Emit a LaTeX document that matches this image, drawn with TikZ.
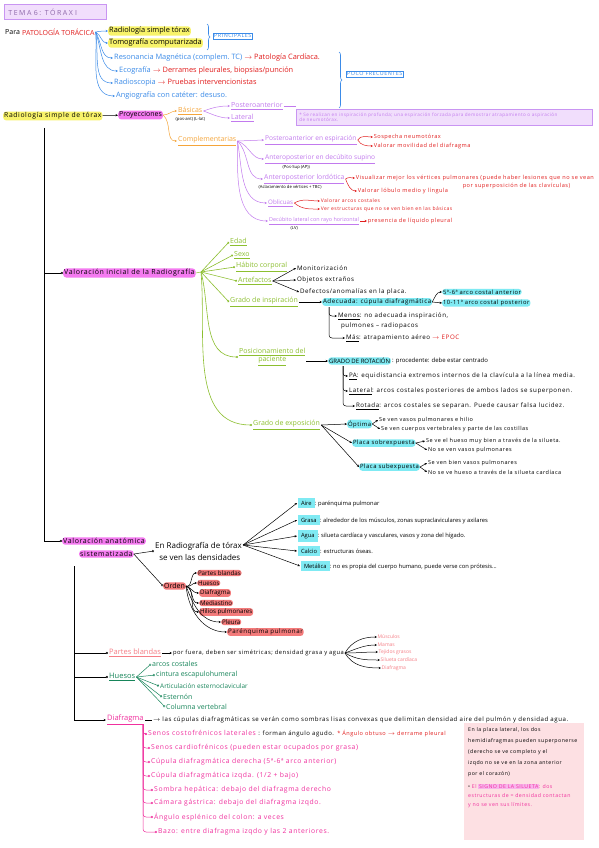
\documentclass[tikz,border=0pt]{standalone}
\usepackage{fontspec}
\setmainfont{Open Sans}
\newfontfamily\wfont[LetterSpace=9]{Open Sans}
\newfontfamily\hfont[LetterSpace=22]{Open Sans}
\usetikzlibrary{arrows.meta,decorations.pathreplacing}
\definecolor{cblue}{HTML}{3B8BE8}
\definecolor{cred}{HTML}{E11D1D}
\definecolor{cyel}{HTML}{F8F36A}
\definecolor{cmag}{HTML}{F47AF0}
\definecolor{ccyan}{HTML}{7FEAF3}
\definecolor{csal}{HTML}{F37B7B}
\definecolor{clav}{HTML}{F1DEFC}
\definecolor{clavd}{HTML}{C995F2}
\definecolor{cpur}{HTML}{C27AEE}
\definecolor{corg}{HTML}{F5A53A}
\definecolor{colive}{HTML}{8CBF2F}
\definecolor{cgreen}{HTML}{17855A}
\definecolor{cpink}{HTML}{F0309E}
\definecolor{clred}{HTML}{F57E86}
\definecolor{cpbox}{HTML}{FDE0E3}
\definecolor{chlp}{HTML}{F9B3EC}
\newcommand\ra{$\rightarrow$}
\tikzset{
 tx/.style={anchor=west, inner sep=1pt, font=\fontsize{7}{8}\selectfont, text=black},
 tt/.style={anchor=west, inner sep=1pt, font=\fontsize{7.4}{8.4}\selectfont, text=black},
 td/.style={anchor=west, inner sep=1pt, font=\wfont\fontsize{6.8}{7.8}\selectfont, text=cpink},
 tm/.style={anchor=west, inner sep=0.8pt, font=\fontsize{5.8}{6.6}\selectfont, text=black},
 tw/.style={anchor=west, inner sep=0.8pt, font=\wfont\fontsize{6.2}{7}\selectfont, text=black},
 tr/.style={anchor=west, inner sep=0.6pt, font=\wfont\fontsize{5.6}{6.2}\selectfont, text=cred},
 sm/.style={anchor=west, inner sep=0.5pt, font=\fontsize{4.2}{4.8}\selectfont, text=black},
 hy/.style={fill=cyel, rounded corners=3pt},
 hm/.style={fill=cmag, rounded corners=3pt},
 hc/.style={fill=ccyan, rounded corners=3pt},
 hr/.style={fill=csal, rounded corners=3pt},
 ar/.style={-{Stealth[length=2.4pt,width=2.2pt]}, line width=0.5pt},
 ci/.style={-{Circle[open,length=2.2pt,width=2.2pt]}, line width=0.5pt},
 dt/.style={-{Circle[length=2pt,width=2pt]}, line width=0.6pt},
 brc/.style={decorate, decoration={brace, amplitude=3pt}, line width=0.6pt},
}
\begin{document}
\begin{tikzpicture}[x=1pt,y=-1pt]
\useasboundingbox[fill=white] (0,0) rectangle (599,848);

% header
\node[draw=clavd, fill=clav, line width=0.8pt, anchor=north west, minimum width=102pt, minimum height=15pt, text width=94pt, align=left, font=\hfont\fontsize{7}{8}\selectfont, text=clavd!70!black] (hdr) at (4,4) {TEMA 6: TÓRAX I};

% top section
\node[tx] (para) at (4,32) {Para};
\node[tx, text=cred] (pat) at (21,32) {PATOLOGÍA TORÁCICA};
\node[tt, hy] (rst) at (108,31) {Radiología simple tórax};
\node[tt, hy] (tc) at (108,43) {Tomografía computarizada};
\node[tt, text=cblue] (rm) at (113,58) {Resonancia Magnética (complem.\ TC) \textcolor{cred}{\ra\ Patología Cardíaca.}};
\node[tt, text=cblue] (eco) at (118,71) {Ecografía \textcolor{cred}{\ra\ Derrames pleurales, biopsias/punción}};
\node[tt, text=cblue] (rad) at (113,83) {Radioscopia \textcolor{cred}{\ra\ Pruebas intervencionistas}};
\node[tt, text=cblue] (ang) at (115,96) {Angiografía con catéter: desuso.};
\foreach \n/\o in {rst/10,tc/-30,rm/-60,eco/-70,rad/-80,ang/-85}
  \draw[ar, cblue] (pat.east) to[out=\o, in=180] (\n.west);
\draw[brc, cblue] (207,24) -- (207,50);
\node[draw=cblue, text=cblue, inner sep=1pt, font=\wfont\fontsize{5.4}{6}\selectfont, anchor=west] (princ) at (213,36) {PRINCIPALES};
\draw[brc, cblue] (339,52) -- (339,108);
\node[draw=cblue, text=cblue, inner sep=1pt, font=\wfont\fontsize{5.4}{6}\selectfont, anchor=west] (poco) at (346,74) {POCO FRECUENTES};

% lavender note
\node[draw=clavd, fill=clav, line width=0.6pt, anchor=north west, minimum width=296pt, minimum height=16pt, text width=290pt, align=left, inner sep=2pt, font=\wfont\fontsize{4.6}{5.4}\selectfont, text=cpur] (lav) at (296,109) {* Se realizan en inspiración profunda; una espiración forzada para demostrar atrapamiento o aspiración\\ de neumotórax.};

% Radiologia simple
\node[tx, hy, font=\wfont\fontsize{6.8}{8}\selectfont] (rst2) at (3,116) {Radiología simple de tórax};
\node[tx, hm] (proy) at (118,115) {Proyecciones};
\draw[ar] (rst2) -- (proy);
\node[tx, text=corg] (bas) at (177,111) {\underline{Básicas}};
\node[sm] (bass) at (175,119) {(pos-ant) (L-lat)};
\node[tx, text=corg] (comp) at (177,141) {\underline{Complementarias}};
\draw[ar, corg] (proy.east) to[out=0, in=180] (bas.west);
\draw[ar, corg] (proy.east) to[out=-40, in=180] (comp.west);
\node[tx, text=cpur] (post) at (230,106) {\underline{Posteroanterior}};
\node[tx, text=cpur] (lat) at (230,118) {\underline{Lateral}};
\draw[ar, cpur] (bas.east) to[out=20, in=180] (post.west);
\draw[ar, cpur] (bas.east) to[out=-20, in=180] (lat.west);
\draw[cpur, line width=0.5pt] (post.east) -- (post.east -| lav.west);

\node[tx, text=cpur, font=\fontsize{6.6}{7.6}\selectfont] (c1) at (264,140) {\underline{Posteroanterior en espiración}};
\node[tx, text=cpur, font=\fontsize{6.6}{7.6}\selectfont] (c2) at (264,159) {\underline{Anteroposterior en decúbito supino}};
\node[sm] (c2s) at (282,167) {(Pos-Sup (AP))};
\node[tx, text=cpur, font=\fontsize{6.8}{7.6}\selectfont] (c3) at (263,179) {\underline{Anteroposterior lordótica}};
\node[sm] (c3s) at (258,187) {(Aclaramiento de vértices + TBC)};
\node[tx, text=cpur, font=\fontsize{6.2}{7}\selectfont] (c4) at (267,203) {\underline{Oblicuas}};
\node[tx, text=cpur, font=\fontsize{5.4}{6.2}\selectfont] (c5) at (268,221) {\underline{Decúbito lateral con rayo horizontal}};
\node[sm] (c5s) at (290,228) {(LV)};
\draw[ar, cpur] (comp.east) -- (c1.west);
\draw[ar, cpur] (comp.east) to[out=-20, in=180] (c2.west);
\draw[ar, cpur] (comp.east) to[out=-45, in=180] (c3.west);
\draw[ar, cpur] (comp.east) to[out=-80, in=180] (c4.west);
\draw[ar, cpur] (comp.east) to[out=-90, in=180] (c5.west);

\node[tr] (r11) at (373,137) {Sospecha neumotórax};
\node[tr] (r12) at (373,146) {Valorar movilidad del diafragma};
\draw[ar, cred] (c1.east) to[out=60, in=180] (r11.west);
\draw[ar, cred] (c1.east) to[out=-60, in=180] (r12.west);
\node[tr] (r31) at (355,178) {Visualizar mejor los vértices pulmonares (puede haber lesiones que no se vean};
\node[tr] (r32) at (462,186) {por superposición de las clavículas)};
\node[tr] (r33) at (357,191) {Valorar lóbulo medio y língula};
\draw[ar, cred] (c3.east) to[out=40, in=180] (r31.west);
\draw[ar, cred] (c3.east) to[out=-70, in=180] (r33.west);
\node[tr, font=\wfont\fontsize{5}{5.6}\selectfont] (r41) at (320,201) {Valorar arcos costales};
\node[tr, font=\wfont\fontsize{5}{5.6}\selectfont] (r42) at (320,209) {Ver estructuras que no se ven bien en las básicas};
\draw[ar, cred] (c4.east) to[out=30, in=180] (r41.west);
\draw[ar, cred] (c4.east) to[out=-40, in=180] (r42.west);
\node[tr] (r51) at (367,221) {presencia de líquido pleural};
\draw[ar, cred] (c5.east) -- (r51.west);

% main vertical
\coordinate (v1top) at (44,128);
\node[tx, hm, font=\wfont\fontsize{7}{8}\selectfont] (vi) at (63,273) {Valoración inicial de la Radiografía};
\node[tx, hm, font=\wfont\fontsize{7}{8}\selectfont] (va1) at (62,541) {Valoración anatómica};
\node[tx, hm, font=\wfont\fontsize{7}{8}\selectfont] (va2) at (79,554) {sistematizada};
\draw[ci] (v1top) |- (va1.west);
\draw[ci] (v1top |- vi.west) -- (vi.west);

% green fan
\coordinate (g0) at (201,272);
\draw[line width=0.5pt, colive] (vi.east) -- (g0);
\node[tx, text=colive] (edad) at (229,242) {\underline{Edad}};
\node[tx, text=colive] (sexo) at (233,255) {\underline{Sexo}};
\node[tx, text=colive] (hab) at (235,267) {\underline{Hábito corporal}};
\node[tx, text=colive] (art) at (237,281) {\underline{Artefactos}};
\node[tx, text=colive] (gi) at (229,302) {\underline{Grado de inspiración}};
\node[tx, text=colive, align=center, anchor=west] (pos) at (238,357) {\underline{Posicionamiento del}\\\underline{paciente}};
\node[tx, text=colive] (ge) at (252,425) {\underline{Grado de exposición}};
\foreach \n in {edad,sexo,hab,art,gi}
  \draw[dt, colive] (g0) -- (\n.west);
\draw[dt, colive] (g0) to[out=-75, in=180] (pos.west);
\draw[dt, colive] (g0) to[out=-85, in=180] (ge.west);

\node[tw] (m1) at (296,268) {Monitorización};
\node[tw] (m2) at (296,280) {Objetos extraños};
\node[tw] (m3) at (299,292) {Defectos/anomalías en la placa.};
\foreach \n in {m1,m2,m3} \draw[ar] (art.east) -- (\n.west);

\node[tw, hc] (ade) at (322,302) {Adecuada: cúpula diafragmática};
\draw[ar] (gi.east) -- (ade.west);
\node[tw, hc, font=\wfont\fontsize{5.8}{6.6}\selectfont] (a1) at (442,292) {5ª-6ª arco costal anterior};
\node[tw, hc, font=\wfont\fontsize{5.8}{6.6}\selectfont] (a2) at (442,303) {10-11ª arco costal posterior};
\draw[ar] (ade.east) to[out=60, in=180] (a1.west);
\draw[ar] (ade.east) -- (a2.west);
\coordinate (b1) at (329,307);
\node[tw] (me) at (337,316) {\underline{Menos}: no adecuada inspiración,};
\node[tw] (me2) at (340,326) {pulmones – radiopacos};
\node[tw] (ma) at (345,338) {\underline{Más}: atrapamiento aéreo \textcolor{cred}{\ra\ EPOC}};
\draw[ar, rounded corners=3pt] (b1) |- (me.west);
\draw[ar, rounded corners=3pt] (b1) |- (ma.west);

\node[tm, hc, font=\fontsize{6}{7}\selectfont] (rot) at (328,361) {GRADO DE ROTACIÓN};
\node[tm, anchor=west, font=\fontsize{6}{7}\selectfont] (rot2) at (rot.east) {: procedente: debe estar centrado};
\draw[ar] (pos.east |- rot.west) -- (rot.west);
\coordinate (b2) at (343,366);
\node[tw] (pa) at (348,376) {\underline{PA}: equidistancia extremos internos de la clavícula a la línea media.};
\node[tw] (latr) at (348,391) {\underline{Lateral}: arcos costales posteriores de ambos lados se superponen.};
\node[tw] (rota) at (355,406) {\underline{Rotada}: arcos costales se separan. Puede causar falsa lucidez.};
\foreach \n in {pa,latr,rota} \draw[ar, rounded corners=3pt] (b2) |- (\n.west);

\node[tw, hc, font=\wfont\fontsize{5.9}{6.6}\selectfont] (op) at (347,424) {Óptima};
\node[tw, hc, font=\wfont\fontsize{5.9}{6.6}\selectfont] (so) at (352,443) {Placa sobrexpuesta};
\node[tw, hc, font=\wfont\fontsize{5.9}{6.6}\selectfont] (su) at (359,467) {Placa subexpuesta};
\foreach \n in {op,so,su} \draw[ar] (ge.east) -- (\n.west);
\node[tw, font=\wfont\fontsize{5.5}{6.2}\selectfont] (o1) at (378,420) {Se ven vasos pulmonares e hilio};
\node[tw, font=\wfont\fontsize{5.5}{6.2}\selectfont] (o2) at (380,429) {Se ven cuerpos vertebrales y parte de las costillas};
\node[tw, font=\wfont\fontsize{5.5}{6.2}\selectfont] (s1) at (425,441) {Se ve el hueso muy bien a través de la silueta.};
\node[tw, font=\wfont\fontsize{5.5}{6.2}\selectfont] (s2) at (427,450) {No se ven vasos pulmonares};
\node[tw, font=\wfont\fontsize{5.5}{6.2}\selectfont] (u1) at (427,463) {Se ven bien vasos pulmonares};
\node[tw, font=\wfont\fontsize{5.5}{6.2}\selectfont] (u2) at (427,472) {No se ve hueso a través de la silueta cardíaca};
\draw[ar] (op.east) -- (o1.west); \draw[ar] (op.east) -- (o2.west);
\draw[ar] (so.east) -- (s1.west); \draw[ar] (so.east) -- (s2.west);
\draw[ar] (su.east) -- (u1.west); \draw[ar] (su.east) -- (u2.west);

% valoracion anatomica
\node[tx, font=\fontsize{8}{12}\selectfont, align=left] (den) at (154,551) {En Radiografía de tórax\\\ \ se ven las densidades};
\node[tx, hr] (ord) at (163,586) {Orden};
\draw[ci] (va2.east) -- (den.west);
\draw[ci] (va2.east) -- (ord.west);
\node[tm] (aire) at (297,503) {\colorbox{ccyan}{Aire}: parénquima pulmonar};
\node[tm] (grasa) at (297,520) {\colorbox{ccyan}{Grasa}: alrededor de los músculos, zonas supraclaviculares y axilares};
\node[tm] (agua) at (297,536) {\colorbox{ccyan}{Agua}: silueta cardíaca y vasculares, vasos y zona del hígado.};
\node[tm] (calc) at (297,551) {\colorbox{ccyan}{Calcio}: estructuras óseas.};
\node[tm] (met) at (300,566) {\colorbox{ccyan}{Metálica}: no es propia del cuerpo humano, puede verse con prótesis...};
\foreach \n in {aire,grasa,agua,calc,met} \draw[ar] (den.east |- 0,545) -- (\n.west);

\node[tm, hr, font=\fontsize{6.2}{7}\selectfont] (p1) at (197,573) {Partes blandas};
\node[tm, hr, font=\fontsize{6.2}{7}\selectfont] (p2) at (197,583) {Huesos};
\node[tm, hr, font=\fontsize{6.2}{7}\selectfont] (p3) at (199,593) {Diafragma};
\node[tm, hr, font=\fontsize{6.2}{7}\selectfont] (p4) at (199,603) {Mediastino};
\node[tm, hr, font=\fontsize{6.2}{7}\selectfont] (p5) at (199,612) {Hilios pulmonares};
\node[tm, hr, font=\fontsize{6.2}{7}\selectfont] (p6) at (221,622) {Pleura};
\node[tm, hr, font=\wfont\fontsize{6.2}{7}\selectfont] (p7) at (227,632) {Parénquima pulmonar};
\foreach \n in {p1,p2,p3,p4,p5} \draw[ar] (ord.east) to[out=-20, in=180] (\n.west);
\draw[ar] (ord.east) to[out=-70, in=180] (p6.west);
\draw[ar] (ord.east) to[out=-85, in=180] (p7.west);

% second vertical
\coordinate (v2top) at (74,566);
\node[tx, text=clred, font=\fontsize{7.5}{9}\selectfont] (pb) at (108,653) {\underline{Partes blandas}};
\node[tx, text=cgreen, font=\fontsize{7.5}{9}\selectfont] (hu) at (108,677) {\underline{Huesos}};
\node[tx, text=cpink, font=\fontsize{7.5}{9}\selectfont] (dia) at (106,720) {\underline{Diafragma}};
\draw[ar] (v2top) |- (dia.west);
\draw[ci] (v2top |- pb.west) -- (pb.west);
\draw[ci] (v2top |- hu.west) -- (hu.west);

\node[tw, font=\wfont\fontsize{5.8}{6.6}\selectfont] (pbt) at (172,653) {por fuera, deben ser simétricas; densidad grasa y agua};
\draw[ar] (pb.east) -- (pbt.west);
\node[sm, text=clred, font=\fontsize{5}{5.6}\selectfont] (l1) at (377,637) {Músculos};
\node[sm, text=clred, font=\fontsize{5}{5.6}\selectfont] (l2) at (377,645) {Mamas};
\node[sm, text=clred, font=\fontsize{5}{5.6}\selectfont] (l3) at (378,652) {Tejidos grasos};
\node[sm, text=clred, font=\fontsize{5}{5.6}\selectfont] (l4) at (380,660) {Silueta cardíaca};
\node[sm, text=clred, font=\fontsize{5}{5.6}\selectfont] (l5) at (381,668) {Diafragma};
\foreach \n/\o in {l1/60,l2/20,l3/0,l4/-30,l5/-60} \draw[ar] (pbt.east) to[out=\o, in=180] (\n.west);

\node[tx, text=cgreen] (h1) at (151,664) {arcos costales};
\node[tx, text=cgreen] (h2) at (155,675) {cintura escapulohumeral};
\node[tx, text=cgreen, font=\fontsize{6.4}{7.4}\selectfont] (h3) at (159,686) {Articulación esternoclavicular};
\node[tx, text=cgreen] (h4) at (162,697) {Esternón};
\node[tx, text=cgreen] (h5) at (165,707) {Columna vertebral};
\foreach \n in {h1,h2,h3,h4,h5} \draw[ci, cgreen] (hu.east) -- (\n.west);

\node[tw, font=\wfont\fontsize{6.1}{7}\selectfont] (diat) at (152,720) {\ra\ las cúpulas diafragmáticas se verán como sombras lisas convexas que delimitan densidad aire del pulmón y densidad agua.};
\draw (dia.east) -- (diat.west);
\coordinate (b3) at (143,724);
\node[td] (d1) at (147,734) {Senos costofrénicos laterales \textcolor{black}{\fontsize{6}{7}\selectfont: forman ángulo agudo.} \textcolor{cred}{\fontsize{5.6}{6}\selectfont * Ángulo obtuso \ra\ derrame pleural}};
\node[td] (d2) at (150,748) {Senos cardiofrénicos (pueden estar ocupados por grasa)};
\node[td] (d3) at (150,762) {Cúpula diafragmática derecha (5ª-6ª arco anterior)};
\node[td] (d4) at (150,776) {Cúpula diafragmática izqda. (1/2 + bajo)};
\node[td] (d5) at (153,790) {Sombra hepática: debajo del diafragma derecho};
\node[td] (d6) at (153,803) {Cámara gástrica: debajo del diafragma izqdo.};
\node[td] (d7) at (153,817) {Ángulo esplénico del colon: a veces};
\node[td] (d8) at (157,832) {Bazo: entre diafragma izqdo y las 2 anteriores.};
\foreach \n in {d1,d2,d3,d4,d5,d6,d7,d8} \draw[ci, cpink, rounded corners=3pt] (b3) |- (\n.west);

\node[fill=cpbox, anchor=north west, minimum width=120pt, minimum height=117pt, inner sep=0pt] (pbox) at (464,723) {};
\node[anchor=north west, align=left, inner sep=0pt, font=\wfont\fontsize{5.2}{11.2}\selectfont] (pboxt) at (468,727) {En la placa lateral, los dos\\hemidiafragmas pueden superponerse\\(derecho se ve completo y el\\izqdo no se ve en la zona anterior\\por el corazón)};
\node[anchor=north west, align=left, inner sep=0pt, font=\wfont\fontsize{5.2}{9.2}\selectfont, text=cpink] (pboxs) at (468,784) {\textcolor{black}{\textbullet}\ El {\setlength{\fboxsep}{0.6pt}\colorbox{chlp}{SIGNO DE LA SILUETA}}: dos\\estructuras de = densidad contactan\\y no se ven sus límites.};
\end{tikzpicture}
\end{document}
